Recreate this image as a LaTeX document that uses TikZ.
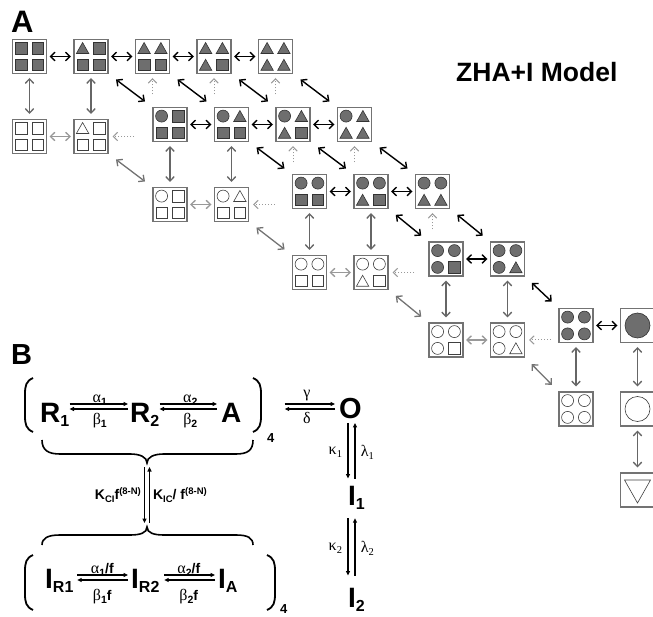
\documentclass[tikz,border=0pt]{standalone}
\usepackage{fontspec}
\setmainfont{Liberation Sans}
\newfontfamily\grk{Liberation Serif}
\usetikzlibrary{arrows.meta,calc}

% four sub-units of one channel state: #1 box, #2 circles, #3 triangles, #4 style
\newcommand{\subunits}[4]{%
	\pgfmathtruncatemacro\ntc{#2+#3}%
	\foreach \k/\dx/\dy in {0/-8.4/-8.4,1/8.4/-8.4,2/-8.4/8.4,3/8.4/8.4}{%
		\ifnum\k<#2\relax
			\draw[#4] (#1.center) ++(\dx,\dy) circle (6pt);
		\else\ifnum\k<\ntc\relax
			\draw[#4] (#1.center) ++(\dx,\dy) ++(-6.2,5.4) -- ++(12.4,0) -- ++(-6.2,-11) -- cycle;
		\else
			\draw[#4] (#1.center) ++(\dx,\dy) ++(-5.8,-5.8) rectangle ++(11.6,11.6);
		\fi\fi
	}%
}
\newcommand{\gk}[1]{{\grk\fontsize{16}{17}\selectfont #1}}
\newcommand{\bsub}[1]{\raisebox{-3pt}{\fontsize{10.5}{11}\selectfont\bfseries #1}}
\newcommand{\gsub}[1]{\raisebox{-3pt}{\grk\fontsize{10.5}{11}\selectfont #1}}
\newcommand{\species}[2]{\fontsize{28}{30}\selectfont\bfseries #1\raisebox{-4pt}{\fontsize{16}{17}\selectfont #2}}

\begin{document}
\begin{tikzpicture}[x=1pt, y=-1pt, >={Straight Barb[length=4.5pt,width=8.5pt]},
	statebox/.style={draw=black!55, line width=1.1pt, fill=white, minimum size=34pt, inner sep=0pt, outer sep=0pt},
	fillsub/.style={fill=black!57, draw=black!80, line width=0.6pt},
	emptysub/.style={fill=white, draw=black!75, line width=0.6pt},
	hlink/.style={<->, line width=1.4pt, shorten <=3pt, shorten >=3pt},
	dlink/.style={<->, line width=1.4pt, shorten <=10pt, shorten >=10pt},
	vlink/.style={<->, black!60, line width=1.3pt, shorten <=4.5pt, shorten >=5.5pt},
	wlink/.style={<->, black!40, line width=1.3pt, shorten <=3pt, shorten >=3pt},
	wdlink/.style={<->, black!55, line width=1.3pt, shorten <=10pt, shorten >=10pt},
	stub/.style={->, black!40, line width=1pt, dotted, shorten >=4.5pt},
	spc/.style={anchor=base west, inner sep=0pt},
	rxn/.style={-{Triangle[length=4.5pt,width=4pt]}, line width=1.2pt},
	paren/.style={line width=1.8pt},
	curly/.style={line width=1.6pt}]
	
	\useasboundingbox (0,0) rectangle (653,617);
	
	% Panel A: labels
	\node[spc] (panelA) at (11,33) {\fontsize{31}{32}\selectfont\bfseries A};
	\node[spc] (title) at (456,82) {\fontsize{26.5}{28}\selectfont\bfseries ZHA+I Model};
	
	% Panel A: filled and inactivated states, rows 0--3
	\foreach \r/\xs/\yf/\yw in {0/29.5/56.5/136.5, 1/170/124.5/204.5, 2/309.5/191.5/272.5, 3/446/259/340}{
		\pgfmathtruncatemacro\last{4-\r}
		\foreach \c in {0,...,\last}{
			\node[statebox] (f\r\c) at (\xs+61.5*\c,\yf) {};
			\subunits{f\r\c}{\r}{\c}{fillsub}
		}
		\foreach \c in {0,1}{
			\node[statebox] (w\r\c) at (\xs+61.5*\c,\yw) {};
			\subunits{w\r\c}{\r}{\c}{emptysub}
		}
	}
	
	% Panel A: last row and the open channel
	\node[statebox] (f40) at (576,325.5) {};
	\subunits{f40}{4}{0}{fillsub}
	\node[statebox] (f41) at (637.5,325.5) {};
	\draw[fillsub] (f41.center) circle (12.5pt);
	\node[statebox] (w40) at (576,409) {};
	\subunits{w40}{4}{0}{emptysub}
	\node[statebox] (w41) at (637.5,409) {};
	\draw[emptysub] (w41.center) circle (12.5pt);
	\node[statebox] (wd) at (637.5,490) {};
	\draw[emptysub] (wd.center) ++(-13,-10) -- ++(26,0) -- ++(-13,23) -- cycle;
	
	% Transitions between filled states
	\foreach \r/\last in {0/3,1/2,2/1,3/0}{
		\foreach \c in {0,...,\last}{
			\pgfmathtruncatemacro\d{\c+1}
			\draw[hlink] (f\r\c.east) -- (f\r\d.west);
		}
	}
	\draw[hlink] (f40.east) -- (f41.west);
	\foreach \r/\last in {0/4,1/3,2/2,3/1}{
		\pgfmathtruncatemacro\s{\r+1}
		\foreach \c in {1,...,\last}{
			\pgfmathtruncatemacro\d{\c-1}
			\draw[dlink] (f\r\c.south east) -- (f\s\d.north west);
		}
	}
	
	% Inactivation and transitions between inactivated states
	\foreach \r in {0,...,4}{
		\foreach \c in {0,1}{
			\draw[vlink] (f\r\c.south) -- (w\r\c.north);
		}
	}
	\draw[vlink] (w41.south) -- (wd.north);
	\foreach \r in {0,...,3}{
		\pgfmathtruncatemacro\s{\r+1}
		\draw[wlink] (w\r0.east) -- (w\r1.west);
		\draw[wdlink] (w\r1.south east) -- (w\s0.north west);
		\coordinate (lt\r) at ($(w\r1.east)+(26,0)$);
		\draw[stub] (lt\r) -- (w\r1.east);
	}
	\foreach \r/\last in {0/4,1/3,2/2}{
		\foreach \c in {2,...,\last}{
			\coordinate (ut\r\c) at ($(f\r\c.south)+(0,21)$);
			\draw[stub] (ut\r\c) -- (f\r\c.south);
		}
	}
	
	% Panel B: kinetic scheme
	\node[spc] (panelB) at (11,365) {\fontsize{29}{30}\selectfont\bfseries B};
	\coordinate (topup) at (0,404);
	\coordinate (toplow) at (0,409);
	\coordinate (botup) at (0,575);
	\coordinate (botlow) at (0,580);
	
	\node[spc] (R1) at (40,422) {\species{R}{1}};
	\node[spc] (R2) at (130,422) {\species{R}{2}};
	\node[spc] (A) at (221,422) {\fontsize{28}{30}\selectfont\bfseries A};
	\node[spc] (nTop) at (267,442) {\fontsize{13}{14}\selectfont\bfseries 4};
	\node[spc] (O) at (339,418) {\fontsize{29}{30}\selectfont\bfseries O};
	\node[spc] (I1) at (348,505) {\species{I}{1}};
	\node[spc] (I2) at (348,607) {\species{I}{2}};
	
	\draw[rxn, shorten >=2pt] (R1.east |- topup) -- (R2.west |- topup)
		node[midway, anchor=base, yshift=2pt] (a1) {\gk{α}\bsub{1}};
	\draw[rxn, shorten <=2pt] (R2.west |- toplow) -- (R1.east |- toplow)
		node[midway, anchor=base, yshift=-15pt] (b1) {\gk{β}\bsub{1}};
	\draw[rxn, shorten >=4pt] (R2.east |- topup) -- (A.west |- topup)
		node[midway, anchor=base, yshift=2pt] (a2) {\gk{α}\bsub{2}};
	\draw[rxn, shorten <=4pt] (A.west |- toplow) -- (R2.east |- toplow)
		node[midway, anchor=base, yshift=-15pt] (b2) {\gk{β}\bsub{2}};
	\draw[rxn, shorten <=10pt, shorten >=4pt] (nTop.east |- topup) -- (O.west |- topup)
		node[midway, anchor=base, yshift=7pt] (gm) {\gk{γ}};
	\draw[rxn, shorten <=4pt, shorten >=10pt] (O.west |- toplow) -- (nTop.east |- toplow)
		node[midway, anchor=base, yshift=-14pt] (dl) {\gk{δ}};
	
	% brackets round the closed states
	\draw[paren] (33,378) .. controls (26,381) and (25,386) .. (25,394) -- (25,416) .. controls (25,424) and (26,429) .. (33,432);
	\draw[paren] (253,378) .. controls (260,381) and (261,386) .. (261,394) -- (261,416) .. controls (261,424) and (260,429) .. (253,432);
	\draw[curly] (42,440) .. controls (42,450) and (48,454) .. (60,454) -- (130,454) .. controls (140,454) and (147,457) .. (147,463)
		.. controls (147,457) and (154,454) .. (164,454) -- (236,454) .. controls (248,454) and (253,450) .. (253,440);
	
	% O to the inactivated states I1, I2
	\coordinate (colD) at ($(O.south)+(-2.5,0)$);
	\coordinate (colU) at ($(O.south)+(4.5,0)$);
	\draw[rxn, shorten <=4.5pt, shorten >=7pt] (colD) -- (colD |- I1.north)
		node[midway, left=2pt] (k1) {\gk{κ}\gsub{1}};
	\draw[rxn, shorten <=7pt, shorten >=4.5pt] (colU |- I1.north) -- (colU)
		node[midway, right=2pt] (l1) {\gk{λ}\gsub{1}};
	\draw[rxn, shorten <=9pt, shorten >=12pt] (colD |- I1.south) -- (colD |- I2.north)
		node[midway, left=2pt] (k2) {\gk{κ}\gsub{2}};
	\draw[rxn, shorten <=12pt, shorten >=9pt] (colU |- I2.north) -- (colU |- I1.south)
		node[midway, right=2pt] (l2) {\gk{λ}\gsub{2}};
	
	% closed to inactivated closed states
	\coordinate (capA) at (147,463);
	\coordinate (capI) at (147,527);
	\draw[rxn, shorten <=4pt, shorten >=4pt] ($(capA)+(-2.5,0)$) -- ($(capI)+(-2.5,0)$)
		node[midway, left=2pt, inner sep=1pt] (kci) {\fontsize{14}{15}\selectfont\bfseries K\raisebox{-2.5pt}{\fontsize{9.5}{10}\selectfont CI}f\raisebox{5pt}{\fontsize{9.5}{10}\selectfont (8-N)}};
	\draw[rxn, shorten <=4pt, shorten >=4pt] ($(capI)+(2.5,0)$) -- ($(capA)+(2.5,0)$)
		node[midway, right=2pt, inner sep=1pt] (kic) {\fontsize{14}{15}\selectfont\bfseries K\raisebox{-2.5pt}{\fontsize{9.5}{10}\selectfont IC}/ f\raisebox{5pt}{\fontsize{9.5}{10}\selectfont (8-N)}};
	
	% inactivated closed states
	\draw[curly] (42,545) .. controls (42,538) and (48,535) .. (60,535) -- (130,535) .. controls (140,535) and (147,533) .. (147,527)
		.. controls (147,533) and (154,535) .. (164,535) -- (236,535) .. controls (248,535) and (253,538) .. (253,545);
	\draw[paren] (33,555) .. controls (26,558) and (25,563) .. (25,571) -- (25,594) .. controls (25,602) and (26,607) .. (33,610);
	\draw[paren] (267,555) .. controls (274,558) and (275,563) .. (275,571) -- (275,594) .. controls (275,602) and (274,607) .. (267,610);
	\node[spc] (IR1) at (45,588) {\species{I}{R1}};
	\node[spc] (IR2) at (131,588) {\species{I}{R2}};
	\node[spc] (IA) at (218,588) {\species{I}{A}};
	\node[spc] (nBot) at (280,613) {\fontsize{13}{14}\selectfont\bfseries 4};
	
	\draw[rxn, shorten <=3.5pt, shorten >=3pt] (IR1.east |- botup) -- (IR2.west |- botup)
		node[midway, anchor=base, yshift=2pt] (a1f) {\gk{α}\bsub{1}{\fontsize{14}{15}\selectfont\bfseries /f}};
	\draw[rxn, shorten <=3pt, shorten >=3.5pt] (IR2.west |- botlow) -- (IR1.east |- botlow)
		node[midway, anchor=base, yshift=-20pt] (b1f) {\gk{β}\bsub{1}{\fontsize{14}{15}\selectfont\bfseries f}};
	\draw[rxn, shorten <=4.5pt, shorten >=3pt] (IR2.east |- botup) -- (IA.west |- botup)
		node[midway, anchor=base, yshift=2pt] (a2f) {\gk{α}\bsub{2}{\fontsize{14}{15}\selectfont\bfseries /f}};
	\draw[rxn, shorten <=3pt, shorten >=4.5pt] (IA.west |- botlow) -- (IR2.east |- botlow)
		node[midway, anchor=base, yshift=-20pt] (b2f) {\gk{β}\bsub{2}{\fontsize{14}{15}\selectfont\bfseries f}};
	
\end{tikzpicture}
\end{document}
